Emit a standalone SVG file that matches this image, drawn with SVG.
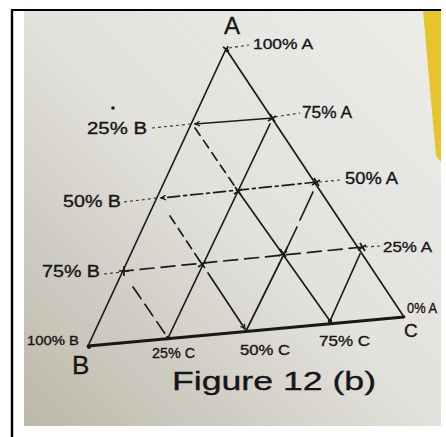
<svg xmlns="http://www.w3.org/2000/svg" width="446" height="437" viewBox="0 0 446 437">
  <defs>
    <linearGradient id="paper" x1="1" y1="0" x2="0" y2="1">
      <stop offset="0" stop-color="#ecece9"/>
      <stop offset="0.5" stop-color="#e2e1dc"/>
      <stop offset="1" stop-color="#bcb8a9"/>
    </linearGradient>
    <marker id="arr" viewBox="0 0 10 10" refX="9" refY="5" markerWidth="6" markerHeight="6" orient="auto" markerUnits="userSpaceOnUse">
      <path d="M1,1 L9,5 L1,9" fill="none" stroke="#1a1a1a" stroke-width="2"/>
    </marker>
    <style>
      .ln { fill: none; stroke: #1c1c1c; stroke-width: 1.7; stroke-linecap: round; }
      .base { fill: none; stroke: #181818; stroke-width: 2.8; stroke-linecap: round; }
      .dash { stroke-dasharray: 9 6; }
      .ldash { stroke-dasharray: 14 7; }
      .dashdot { stroke-dasharray: 12 4 3 4; }
      .lead { fill: none; stroke: #333; stroke-width: 1.1; stroke-dasharray: 3 3; }
      .tk { fill: none; stroke: #1a1a1a; stroke-width: 1.7; }
      .t { font-family: "Liberation Sans", Arial, sans-serif; fill: #161616; stroke: #161616; stroke-width: 0.35; }
    </style>
  </defs>

  <!-- page and photo -->
  <rect x="0" y="0" width="446" height="437" fill="#ffffff"/>
  <rect x="24" y="11" width="417" height="415" fill="url(#paper)"/>
  <polygon points="423,11 441,11 441,162 436,156" fill="#e6c52c"/>
  <line x1="11" y1="10" x2="441" y2="10" stroke="#000" stroke-width="2"/>
  <line x1="12" y1="10" x2="12" y2="437" stroke="#000" stroke-width="2.4"/>

  <!-- triangle -->
  <g id="triangle">
    <line class="ln" x1="226" y1="49" x2="88" y2="346"/>
    <line class="ln" x1="226" y1="49" x2="404" y2="317"/>
    <line class="base" x1="88" y1="346" x2="404" y2="317"/>
  </g>

  <g id="connectors">
    <!-- constant A lines -->
    <line class="ln" x1="273" y1="118" x2="195" y2="124" marker-end="url(#arr)"/>
    <line class="ln dashdot" x1="317" y1="182" x2="161" y2="198" marker-end="url(#arr)"/>
    <line class="ln ldash" x1="363" y1="247" x2="124" y2="271"/>

    <!-- parallel to AC -->
    <line class="ln dash" x1="195" y1="128" x2="238" y2="191"/>
    <line class="ln" x1="238" y1="191" x2="330" y2="321"/>
    <line class="ln dash" x1="170" y1="216" x2="203" y2="266"/>
    <line class="ln" x1="208" y1="273" x2="245" y2="329" marker-end="url(#arr)"/>
    <line class="ln ldash" x1="133" y1="287" x2="168" y2="338"/>

    <!-- parallel to AB -->
    <line class="ln" x1="270" y1="124" x2="168" y2="338"/>
    <line class="ln" x1="313" y1="192" x2="300" y2="220"/>
    <line class="ln" x1="297" y1="227" x2="287" y2="248"/>
    <line class="ln" x1="287" y1="248" x2="246" y2="331"/>
    <line class="ln" x1="360" y1="254" x2="330" y2="321"/>
  </g>

  <g id="leaders">
    <line class="lead" x1="229" y1="48" x2="249" y2="45"/>
    <line class="lead" x1="275" y1="117" x2="300" y2="113"/>
    <line class="lead" x1="152" y1="128" x2="191" y2="124"/>
    <line class="lead" x1="124" y1="202" x2="157" y2="198"/>
    <line class="lead" x1="319" y1="182" x2="340" y2="180"/>
    <line class="lead" x1="365" y1="247" x2="380" y2="246"/>
    <line class="lead" x1="104" y1="274" x2="122" y2="272"/>
  </g>

  <g id="marks">
    <path class="tk" d="M223,47 l6,4 M226,52 l2,-6"/>
    <path class="tk" d="M270,114 l5,8 M268,121 l8,-5"/>
    <path class="tk" d="M314,178 l5,8 M312,185 l8,-5"/>
    <path class="tk" d="M360,243 l5,8 M358,250 l8,-5"/>
    <path class="tk" d="M124,266 v10 M119,271 h10"/>
    <path class="tk" d="M235,187 l6,8 M234,194 l8,-5"/>
    <path class="tk" d="M199,260 l6,8 M198,267 l8,-5"/>
    <path class="tk" d="M280,249 l6,8 M279,256 l8,-5"/>
    <circle cx="168" cy="338" r="2.2" fill="#1a1a1a"/>
    <circle cx="330" cy="321" r="2.2" fill="#1a1a1a"/>
    <circle cx="89" cy="347" r="2" fill="#1a1a1a"/>
    <circle cx="113" cy="108" r="1.8" fill="#1a1a1a"/>
  </g>

  <g id="labels">
    <text class="t" x="224" y="34" font-size="24">A</text>
    <text class="t" x="253" y="49" font-size="15" textLength="60" lengthAdjust="spacingAndGlyphs">100% A</text>
    <text class="t" x="302" y="118" font-size="17" textLength="50" lengthAdjust="spacingAndGlyphs">75% A</text>
    <text class="t" x="87" y="134" font-size="17" textLength="60" lengthAdjust="spacingAndGlyphs">25% B</text>
    <text class="t" x="63" y="207" font-size="17" textLength="58" lengthAdjust="spacingAndGlyphs">50% B</text>
    <text class="t" x="345" y="184" font-size="16" textLength="53" lengthAdjust="spacingAndGlyphs">50% A</text>
    <text class="t" x="383" y="252" font-size="15" textLength="49" lengthAdjust="spacingAndGlyphs">25% A</text>
    <text class="t" x="42" y="277" font-size="17" textLength="58" lengthAdjust="spacingAndGlyphs">75% B</text>
    <text class="t" x="407" y="313" font-size="14" textLength="30" lengthAdjust="spacingAndGlyphs">0% A</text>
    <text class="t" x="404" y="337" font-size="19">C</text>
    <text class="t" x="27" y="345" font-size="13" textLength="52" lengthAdjust="spacingAndGlyphs">100% B</text>
    <text class="t" x="72" y="374" font-size="26">B</text>
    <text class="t" x="152" y="358" font-size="14" textLength="43" lengthAdjust="spacingAndGlyphs">25% C</text>
    <text class="t" x="240" y="355" font-size="14" textLength="50" lengthAdjust="spacingAndGlyphs">50% C</text>
    <text class="t" x="319" y="346" font-size="15" textLength="51" lengthAdjust="spacingAndGlyphs">75% C</text>
    <text class="t" x="172" y="390" font-size="26" textLength="204" lengthAdjust="spacingAndGlyphs" stroke-width="0.2">Figure 12 (b)</text>
  </g>
</svg>
